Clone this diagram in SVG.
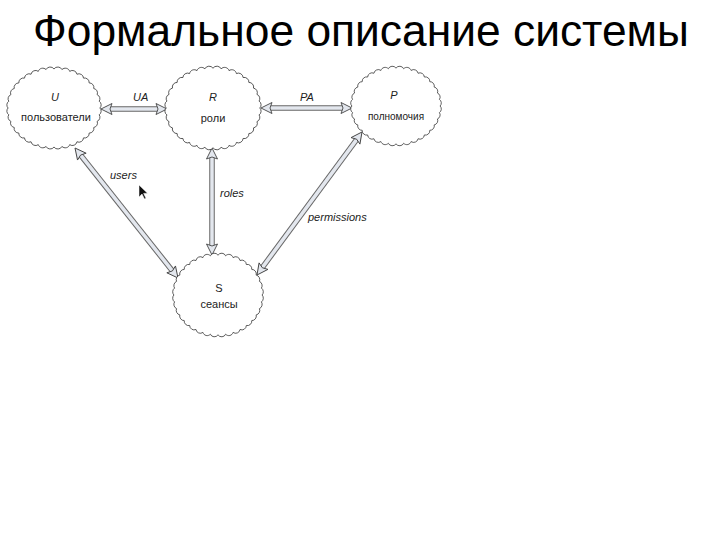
<svg xmlns="http://www.w3.org/2000/svg" xmlns:xlink="http://www.w3.org/1999/xlink" width="720" height="540" viewBox="0 0 720 540">
<style>
.title{font-family:"Liberation Sans",Arial,sans-serif;font-size:44px;fill:#000}
.lbl{font-family:"Liberation Sans",Arial,sans-serif;font-size:11px;fill:#222}
.it{font-style:italic}
.cloud{fill:#fff;stroke:#333;stroke-width:0.8}
.shaft-o{fill:none;stroke:#666;stroke-width:5.5}
.shaft-i{fill:none;stroke:#e3e7ee;stroke-width:3.5}
.shaft-m{fill:none;stroke:none;marker-start:url(#ah);marker-end:url(#ah)}
</style>
<defs>
<path id="cloud" d="M45,0 A4.5,4.5 0 0 1 44.32,6.77 A4.5,4.5 0 0 1 42.29,13.34 A4.5,4.5 0 0 1 38.97,19.5 A4.5,4.5 0 0 1 34.47,25.07 A4.5,4.5 0 0 1 28.93,29.88 A4.5,4.5 0 0 1 22.5,33.77 A4.5,4.5 0 0 1 15.39,36.65 A4.5,4.5 0 0 1 7.81,38.41 A4.5,4.5 0 0 1 0,39 A4.5,4.5 0 0 1 -7.81,38.41 A4.5,4.5 0 0 1 -15.39,36.65 A4.5,4.5 0 0 1 -22.5,33.77 A4.5,4.5 0 0 1 -28.93,29.88 A4.5,4.5 0 0 1 -34.47,25.07 A4.5,4.5 0 0 1 -38.97,19.5 A4.5,4.5 0 0 1 -42.29,13.34 A4.5,4.5 0 0 1 -44.32,6.77 A4.5,4.5 0 0 1 -45,0 A4.5,4.5 0 0 1 -44.32,-6.77 A4.5,4.5 0 0 1 -42.29,-13.34 A4.5,4.5 0 0 1 -38.97,-19.5 A4.5,4.5 0 0 1 -34.47,-25.07 A4.5,4.5 0 0 1 -28.93,-29.88 A4.5,4.5 0 0 1 -22.5,-33.77 A4.5,4.5 0 0 1 -15.39,-36.65 A4.5,4.5 0 0 1 -7.81,-38.41 A4.5,4.5 0 0 1 0,-39 A4.5,4.5 0 0 1 7.81,-38.41 A4.5,4.5 0 0 1 15.39,-36.65 A4.5,4.5 0 0 1 22.5,-33.77 A4.5,4.5 0 0 1 28.93,-29.88 A4.5,4.5 0 0 1 34.47,-25.07 A4.5,4.5 0 0 1 38.97,-19.5 A4.5,4.5 0 0 1 42.29,-13.34 A4.5,4.5 0 0 1 44.32,-6.77 A4.5,4.5 0 0 1 45,0 Z"/>
<marker id="ah" markerUnits="userSpaceOnUse" markerWidth="14" markerHeight="14" viewBox="-1 -7 13 14" refX="11" refY="0" orient="auto-start-reverse">
<path d="M0,-5.5 L11,0 L0,5.5 L2,0 Z" fill="#e3e7ee" stroke="#444" stroke-width="0.9" stroke-linejoin="miter"/>
</marker>
</defs>
<rect width="720" height="540" fill="#fff"/>
<text class="title" x="33" y="46" textLength="656" lengthAdjust="spacingAndGlyphs">Формальное описание системы</text>

<g id="connectors">
<g id="c-ua"><path class="shaft-o" d="M106,109 L161,109"/><path class="shaft-i" d="M106,109 L161,109"/><path class="shaft-m" d="M101,109 L167,109"/></g>
<g id="c-pa"><path class="shaft-o" d="M267,108 L346,108"/><path class="shaft-i" d="M267,108 L346,108"/><path class="shaft-m" d="M261,108 L352,108"/></g>
<g id="c-roles"><path class="shaft-o" d="M212,154 L212,249"/><path class="shaft-i" d="M212,154 L212,249"/><path class="shaft-m" d="M212,148 L212,255"/></g>
<g id="c-users"><path class="shaft-o" d="M78.7,152.7 L174.3,273.3"/><path class="shaft-i" d="M78.7,152.7 L174.3,273.3"/><path class="shaft-m" d="M75,148 L178,278"/></g>
<g id="c-perm"><path class="shaft-o" d="M358.6,136.9 L260.4,270.1"/><path class="shaft-i" d="M358.6,136.9 L260.4,270.1"/><path class="shaft-m" d="M362,132 L257,275"/></g>
<text class="lbl it" x="133" y="101">UA</text>
<text class="lbl it" x="300" y="101">PA</text>
<text class="lbl it" x="110" y="179">users</text>
<text class="lbl it" x="220" y="197">roles</text>
<text class="lbl it" x="308" y="221">permissions</text>
</g>

<g id="cursor"><path d="M139,185 L139,197 L142,194 L144.5,199 L146,198.2 L143.6,193.4 L147.5,193.2 Z" fill="#111" stroke="#fff" stroke-width="0.5"/></g>

<g id="node-u"><use xlink:href="#cloud" class="cloud" transform="translate(54,108) scale(1.02,1)"/>
<text class="lbl it" x="55" y="101" text-anchor="middle">U</text>
<text class="lbl" x="56" y="121" text-anchor="middle">пользователи</text></g>
<g id="node-r"><use xlink:href="#cloud" class="cloud" transform="translate(213,108) scale(1.04,1.02)"/>
<text class="lbl it" x="213" y="101" text-anchor="middle">R</text>
<text class="lbl" x="213" y="122" text-anchor="middle">роли</text></g>
<g id="node-p"><use xlink:href="#cloud" class="cloud" transform="translate(396,106) scale(0.98,0.97)"/>
<text class="lbl it" x="394" y="99" text-anchor="middle">P</text>
<text class="lbl" x="396" y="120" text-anchor="middle" style="font-size:10px">полномочия</text></g>
<g id="node-s"><use xlink:href="#cloud" class="cloud" transform="translate(218,295) scale(0.98,1.02)"/>
<text class="lbl" x="219" y="292" text-anchor="middle">S</text>
<text class="lbl" x="219" y="308" text-anchor="middle">сеансы</text></g>
</svg>
